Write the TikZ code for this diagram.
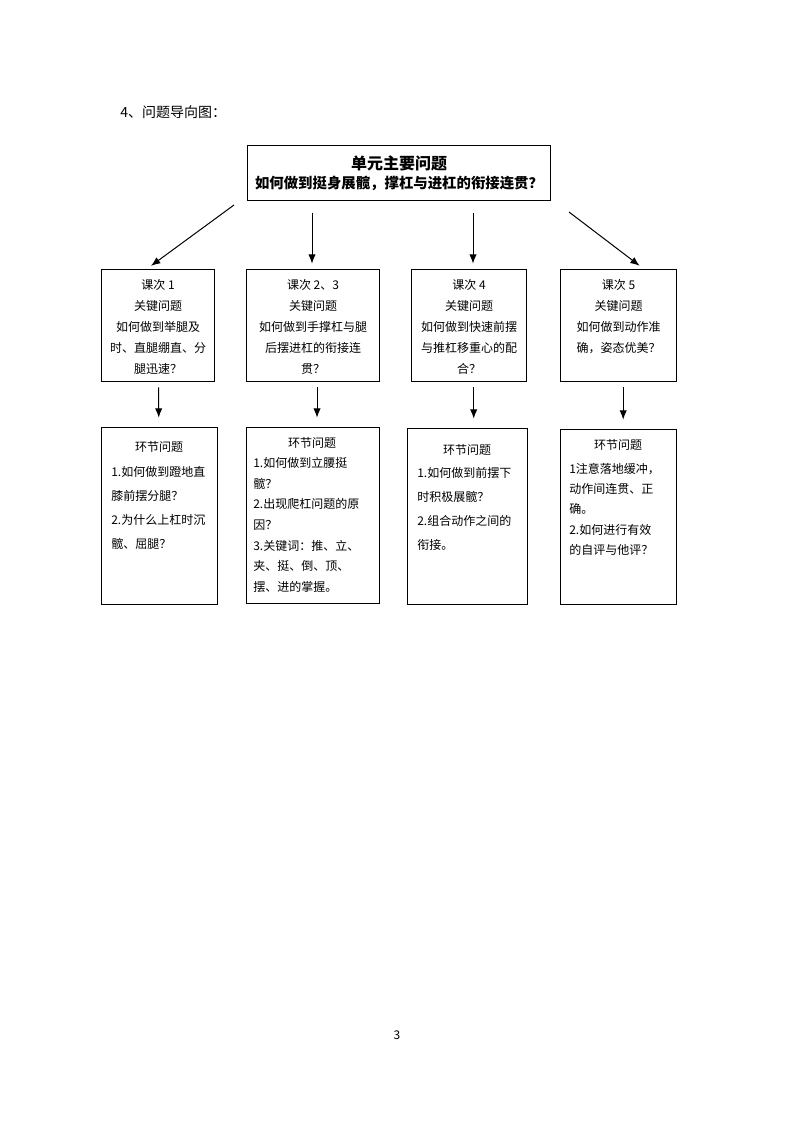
\documentclass[tikz,border=0pt]{standalone}
\usepackage{fontspec}
\setmainfont{Noto Sans CJK SC}
\usetikzlibrary{arrows.meta, positioning}
\tikzset{
x=0.75pt, y=-0.75pt, % one unit is one pixel of the page, y downwards
>={Latex[length=7pt,width=5.5pt]}, % filled arrow heads
frame/.style 2 args={draw, line width=0.8pt, anchor=north west, inner sep=0pt,
  minimum width=#1*0.75pt, minimum height=#2*0.75pt}, % boxes, size in pixels
arr/.style={->, line width=0.75pt}, % connectors
ktext/.style={align=center, inner sep=0pt, anchor=north,
  font=\fontsize{9pt}{15.75pt}\selectfont}, % text of the lesson boxes
head/.style={inner sep=0pt, anchor=north, font=\fontsize{9pt}{11pt}\selectfont},
body/.style={align=left, inner sep=0pt, anchor=north west,
  font=\fontsize{9pt}{#1}\selectfont}, % text of the step boxes
}

\begin{document}
\begin{tikzpicture}
  \useasboundingbox (0,0) rectangle (794,1123);

  \node[anchor=west, inner sep=0pt, font=\fontsize{10.5pt}{12pt}\selectfont] (title) at (120,112) {4、问题导向图：};

  % main question
  \node[frame={303}{55}, align=center] (main) at (247,145)
    {{\fontsize{12pt}{16.5pt}\selectfont\bfseries 单元主要问题}\\[2pt]
     {\fontsize{10.8pt}{14pt}\selectfont\bfseries 如何做到挺身展髋，撑杠与进杠的衔接连贯？}};

  % lessons
  \node[frame={113}{112}] (k1) at (101,269) {};
  \node[frame={133}{112}] (k2) at (246,269) {};
  \node[frame={115}{112}] (k3) at (411,269) {};
  \node[frame={116}{112}] (k4) at (560,269) {};

  \node[ktext, below=7.5pt of k1.north] (t1) {课次 1\\关键问题\\如何做到举腿及\\时、直腿绷直、分\\腿迅速？};
  \node[ktext, below=7.5pt of k2.north] (t2) {课次 2、3\\关键问题\\如何做到手撑杠与腿\\后摆进杠的衔接连\\贯？};
  \node[ktext, below=7.5pt of k3.north] (t3) {课次 4\\关键问题\\如何做到快速前摆\\与推杠移重心的配\\合？};
  \node[ktext, below=7.5pt of k4.north] (t4) {课次 5\\关键问题\\如何做到动作准\\确，姿态优美？};

  % steps
  \node[frame={116}{177}] (h1) at (101,427) {};
  \node[frame={133}{176}] (h2) at (246,427) {};
  \node[frame={120}{176}] (h3) at (407,428) {};
  \node[frame={116}{175}] (h4) at (560,429) {};

  \node[head] (n1) at (159,441) {环节问题};
  \node[head] (n2) at (312,437) {环节问题};
  \node[head] (n3) at (467,444) {环节问题};
  \node[head] (n4) at (618,439) {环节问题};

  \node[body=18pt] (b1) at (111,466) {1.如何做到蹬地直\\膝前摆分腿？\\2.为什么上杠时沉\\髋、屈腿？};
  \node[body=15.5pt] (b2) at (253,457) {1.如何做到立腰挺\\髋？\\2.出现爬杠问题的原\\因？\\3.关键词：推、立、\\夹、挺、倒、顶、\\摆、进的掌握。};
  \node[body=18pt] (b3) at (417,467) {1.如何做到前摆下\\时积极展髋？\\2.组合动作之间的\\衔接。};
  \node[body=15.2pt] (b4) at (569,463) {1注意落地缓冲，\\动作间连贯、正\\确。\\2.如何进行有效\\的自评与他评？};

  % arrows from the main question
  \coordinate (s1) at (234,205);
  \coordinate (s2) at (312,213);
  \coordinate (s3) at (473,213);
  \coordinate (s4) at (569,212);

  \draw[arr, shorten >=4pt] (s1) -- ([xshift=-8.5pt]k1.north);
  \draw[arr, shorten >=4pt] (s2) -- (s2 |- k2.north);
  \draw[arr, shorten >=4pt] (s3) -- (s3 |- k3.north);
  \draw[arr, shorten >=4pt] (s4) -- ([xshift=19pt]k4.north);

  % arrows down to the steps
  \draw[arr, shorten <=4pt, shorten >=7pt] (k1) -- (h1);
  \draw[arr, shorten <=4pt, shorten >=7pt] ([xshift=3pt]k2.south) -- ([xshift=3pt]h2.north);
  \draw[arr, shorten <=4pt, shorten >=7pt] ([xshift=3.5pt]k3.south) -- ([xshift=3.5pt]k3.south |- h3.north);
  \draw[arr, shorten <=4pt, shorten >=7pt] ([xshift=3.5pt]k4.south) -- ([xshift=3.5pt]h4.north);

  \node[font=\fontsize{9pt}{11pt}\selectfont] (page) at (397,1035) {3};
\end{tikzpicture}
\end{document}
